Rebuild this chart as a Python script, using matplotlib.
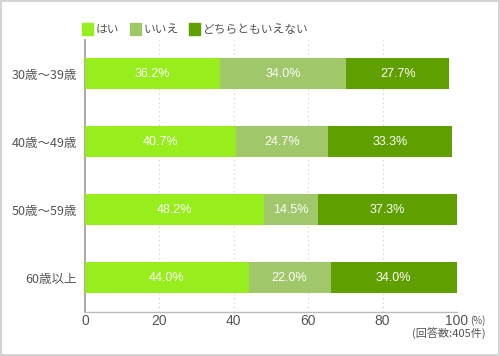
import matplotlib
matplotlib.use("Agg")
import matplotlib.pyplot as plt
import matplotlib.patches as patches
import numpy as np

plt.rcParams['font.family'] = ['Noto Sans CJK JP', 'DejaVu Sans']

categories = ["30歳～39歳", "40歳～49歳", "50歳～59歳", "60歳以上"]
series_names = ["はい", "いいえ", "どちらともいえない"]
yes_vals = [36.2, 40.7, 48.2, 44.0]
no_vals = [34.0, 24.7, 14.5, 22.0]
neither_vals = [27.7, 33.3, 37.3, 34.0]
colors = ["#97ee1c", "#a0c86a", "#5fa000"]
x_ticks = [0, 20, 40, 60, 80, 100]

text_color = "#555555"

fig = plt.figure(figsize=(5, 3.56), dpi=100)
ax = fig.add_axes([0.17, 0.125, 0.744, 0.763])

# outer frame
fig.patches.append(patches.Rectangle((0.002, 0.003), 0.996, 0.994, transform=fig.transFigure,
                                     fill=False, edgecolor="#cccccc", linewidth=1.2))

y = np.arange(len(categories))
left = np.zeros(len(categories))
for name, vals, color in zip(series_names, [yes_vals, no_vals, neither_vals], colors):
    vals = np.array(vals)
    ax.barh(y, vals, left=left, height=0.46, color=color, label=name, zorder=3)
    for yi, l, v in zip(y, left, vals):
        ax.text(l + v / 2, yi, f"{v:.1f}%", ha="center", va="center", color="white",
                fontsize=9, zorder=4, family=["Liberation Sans", "DejaVu Sans"])
    left = left + vals

ax.set_ylim(len(categories) - 0.5, -0.5)
ax.set_xlim(0, 100)
ax.set_yticks(y)
ax.set_yticklabels(categories, fontsize=9, color=text_color)
ax.set_xticks(x_ticks)
ax.set_xticklabels([str(t) for t in x_ticks], fontsize=10, color=text_color,
                   family=["Liberation Sans", "DejaVu Sans"])
ax.tick_params(axis="x", length=0, pad=2)
ax.tick_params(axis="y", length=0, pad=6)

for t in x_ticks[1:]:
    ax.axvline(t, color="#cccccc", linestyle=(0, (1, 3)), linewidth=0.8, zorder=1)

for side in ["top", "right"]:
    ax.spines[side].set_visible(False)
ax.spines["left"].set_color("#999999")
ax.spines["left"].set_linewidth(1.2)
ax.spines["bottom"].set_color("#bbbbbb")
ax.spines["bottom"].set_linewidth(1.0)

# legend
leg_x = [0.164, 0.26, 0.378]
for lx, name, color in zip(leg_x, series_names, colors):
    fig.patches.append(patches.Rectangle((lx, 0.903), 0.022, 0.031, transform=fig.transFigure,
                                         color=color))
    fig.text(lx + 0.027, 0.918, name, fontsize=8.5, color=text_color, va="center", ha="left")

fig.text(0.955, 0.1, "(%)", fontsize=7, color=text_color, ha="center", va="center")
fig.text(0.972, 0.063, "(回答数:405件)", fontsize=8, color=text_color, ha="right", va="center")

fig.savefig("out.png", dpi=100)
